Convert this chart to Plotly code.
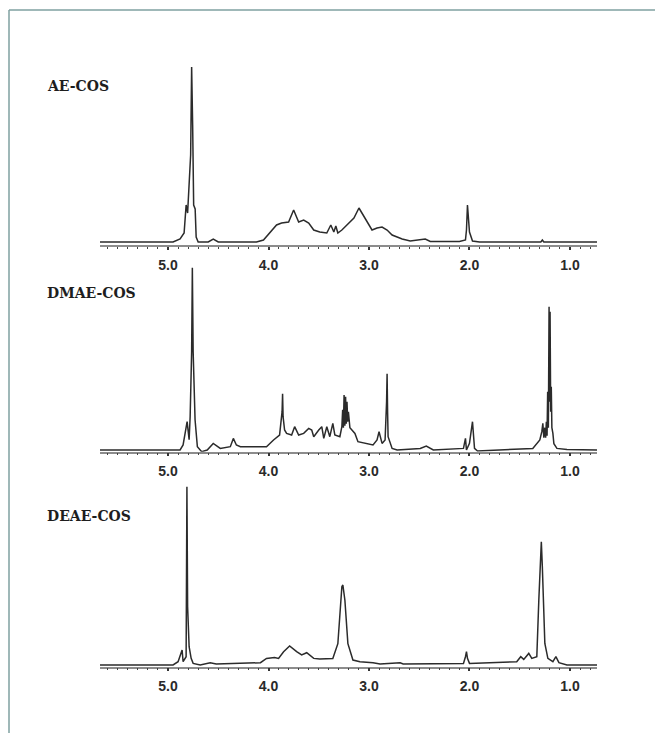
import plotly.graph_objects as go

# ---------------- data ----------------
panel_labels = ["AE-COS", "DMAE-COS", "DEAE-COS"]
tick_vals = [5.0, 4.0, 3.0, 2.0, 1.0]
tick_text = ["5.0", "4.0", "3.0", "2.0", "1.0"]

ae_ppm = [5.68, 4.95, 4.88, 4.84, 4.82, 4.805, 4.775, 4.765, 4.755, 4.745, 4.73, 4.72, 4.70,
          4.60, 4.55, 4.50, 4.12, 4.05, 3.92, 3.87, 3.80, 3.75, 3.70, 3.65, 3.60, 3.55,
          3.49, 3.42, 3.38, 3.35, 3.33, 3.31, 3.27, 3.20, 3.15, 3.10, 3.05, 3.02, 2.97,
          2.92, 2.87, 2.82, 2.77, 2.72, 2.67, 2.59, 2.49, 2.44, 2.39, 2.10, 2.04, 2.03,
          2.02, 2.00, 1.97, 1.90, 1.29, 1.275, 1.26, 0.73]
ae_int = [3, 3, 6, 12, 40, 32, 90, 178, 120, 40, 36, 8, 3,
          3, 6, 3, 3, 5, 20, 22, 23, 35, 23, 25, 22, 15,
          13, 12, 20, 13, 19, 12, 15, 22, 27, 37, 28, 23, 15,
          17, 18, 15, 10, 8, 6, 4, 5, 6, 3.5, 3.5, 5, 15,
          40, 13, 4, 3, 3, 5, 3, 3]

dmae_ppm = [5.68, 4.88, 4.85, 4.81, 4.79, 4.78, 4.765, 4.758, 4.75, 4.731, 4.708, 4.665,
            4.61, 4.55, 4.48, 4.38, 4.35, 4.32, 4.28, 4.02, 3.95, 3.89, 3.865, 3.86, 3.855,
            3.84, 3.82, 3.77, 3.74, 3.70, 3.65, 3.60, 3.57, 3.55, 3.50, 3.47, 3.45, 3.42,
            3.39, 3.36, 3.34, 3.29, 3.27, 3.262, 3.255, 3.248, 3.24, 3.233, 3.226, 3.219,
            3.212, 3.205, 3.19, 3.17, 3.14, 3.11, 3.02, 2.96, 2.92, 2.90, 2.87, 2.84,
            2.825, 2.82, 2.815, 2.81, 2.77, 2.72, 2.49, 2.43, 2.36, 2.06, 2.04, 2.03,
            2.00, 1.97, 1.95, 1.92, 1.37, 1.30, 1.28, 1.27, 1.26, 1.25, 1.242, 1.235,
            1.228, 1.222, 1.215, 1.208, 1.203, 1.198, 1.192, 1.186, 1.18, 1.17, 1.16,
            1.13, 1.03, 0.73]
dmae_int = [1.7, 1.7, 6.7, 30, 12, 35, 100, 184, 100, 32, 5, 0,
            1.7, 8.3, 3.3, 5, 13.3, 6.7, 5, 5, 11.7, 16.7, 40, 58, 35,
            21.7, 18.3, 16.7, 25, 16.7, 18.3, 23.3, 21.7, 15, 21.7, 25, 13.3, 25,
            15, 28.3, 16.7, 15, 25, 42, 24, 56.7, 26, 55, 28, 50,
            30, 40, 24, 21.7, 18.3, 10, 8.3, 6.7, 11.7, 20, 8.3, 11.7,
            50, 78, 40, 15, 3.3, 1.7, 3.3, 5.7, 1.7, 3.3, 13.3, 1.7,
            8.3, 30, 3.3, 0.7, 3.3, 11.7, 20, 28.3, 14, 24, 14, 30,
            16, 60, 24, 145, 50, 140, 40, 65, 24, 18.3, 8,
            3.3, 2.3, 1.7]

deae_ppm = [5.68, 4.95, 4.90, 4.86, 4.85, 4.82, 4.812, 4.805, 4.79, 4.77, 4.75, 4.68,
            4.58, 4.52, 4.08, 4.02, 3.94, 3.90, 3.85, 3.79, 3.72, 3.67, 3.62, 3.55, 3.49,
            3.36, 3.31, 3.27, 3.26, 3.24, 3.21, 3.16, 3.09, 2.96, 2.89, 2.69, 2.66, 2.06,
            2.04, 2.03, 2.02, 2.00, 1.53, 1.49, 1.46, 1.41, 1.38, 1.33, 1.31, 1.285,
            1.275, 1.27, 1.25, 1.22, 1.17, 1.14, 1.11, 1.03, 0.73]
deae_int = [1.7, 1.7, 5, 16.7, 5, 10, 180, 60, 20, 8.3, 3.3, 1.7,
            4, 2.7, 4, 8.3, 9.3, 8.3, 15, 20.7, 15, 11.7, 14, 8.3, 7.7,
            8.3, 23, 80, 81.7, 66.7, 23, 6.7, 5, 4, 2.7, 4, 2.7, 3.3,
            10, 15, 8.3, 3.3, 5, 10, 7.3, 13.3, 8.3, 10, 66.7, 125,
            100, 83, 23.3, 8.3, 5, 10, 4, 1.7, 1.7]

spectra = [(ae_ppm, ae_int), (dmae_ppm, dmae_int), (deae_ppm, deae_int)]

# ---------------- layout geometry ----------------
# the page body has an 8 px margin, so the figure is drawn 8 px smaller and
# all page-pixel positions below are shifted by that offset
OFF = 8
W, H = 663 - OFF, 737 - OFF - 4
x_left_px, x_right_px = 100 - OFF, 597 - OFF
x_range = [5.677, 0.731]
axis_px = [245 - OFF, 451.7 - OFF, 666.7 - OFF]   # pixel row of each x-axis line
y_span = [185, 190, 185]                           # vertical extent (intensity units = px)
label_x_px = 45 - OFF
label_y_px = [86 - OFF, 293 - OFF, 516 - OFF]
frame_x_px, frame_y_px = 9 - OFF, 10 - OFF

line_color = "#2b2b2b"
axis_color = "#8c8c8c"
frame_color = "#7fa0a1"

fig = go.Figure()
layout = dict(
    width=W, height=H, autosize=False,
    margin=dict(l=0, r=0, t=0, b=0),
    paper_bgcolor="white", plot_bgcolor="rgba(0,0,0,0)",
    showlegend=False,
)

for i, (px, py) in enumerate(spectra):
    n = "" if i == 0 else str(i + 1)
    fig.add_trace(go.Scatter(x=px, y=py, mode="lines",
                             line=dict(color=line_color, width=1.5),
                             xaxis="x" + n, yaxis="y" + n, hoverinfo="skip"))
    bottom = (H - axis_px[i]) / H
    top = (H - (axis_px[i] - y_span[i])) / H
    layout["xaxis" + n] = dict(
        domain=[x_left_px / W, x_right_px / W], range=x_range, anchor="y" + n,
        showline=True, linecolor=axis_color, linewidth=1.5,
        ticks="outside", ticklen=3, tickwidth=1.5, tickcolor="#333",
        tickvals=tick_vals, ticktext=tick_text,
        tickfont=dict(family="Liberation Sans, Arial", size=14, color="#2a2a2a", weight="bold"),
        ticklabelstandoff=3,
        minor=dict(dtick=0.1, ticks="outside", ticklen=2, tickwidth=1.2, tickcolor="#444", showgrid=False),
        showgrid=False, zeroline=False, fixedrange=True,
    )
    layout["yaxis" + n] = dict(
        domain=[bottom, top], range=[0, y_span[i]], visible=False, fixedrange=True,
    )

fig.update_layout(**layout)

for i, txt in enumerate(panel_labels):
    fig.add_annotation(text=txt, xref="paper", yref="paper",
                       x=label_x_px / W, y=1 - label_y_px[i] / H, xanchor="left", yanchor="middle",
                       showarrow=False,
                       font=dict(family="DejaVu Serif", size=14, color="#1e1e1e", weight="bold"))

# teal frame (left and top edges visible)
fig.add_shape(type="line", xref="paper", yref="paper", x0=frame_x_px / W, x1=frame_x_px / W,
              y0=-0.05, y1=1 - frame_y_px / H, line=dict(color=frame_color, width=1.5))
fig.add_shape(type="line", xref="paper", yref="paper", x0=frame_x_px / W, x1=1.05,
              y0=1 - frame_y_px / H, y1=1 - frame_y_px / H, line=dict(color=frame_color, width=1.5))

fig.write_html("out.html")
